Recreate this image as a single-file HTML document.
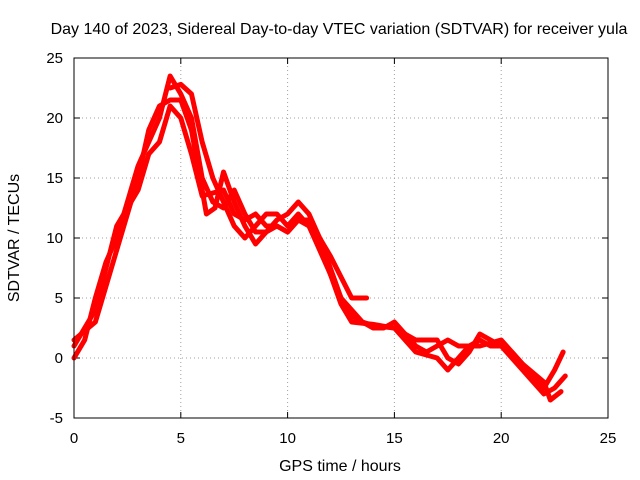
<!DOCTYPE html>
<html><head><meta charset="utf-8"><style>
html,body{margin:0;padding:0;background:#fff;}
svg{display:block;font-family:"Liberation Sans",sans-serif;}
</style></head><body>
<svg id="chart" width="640" height="480">
<text x="339" y="34" text-anchor="middle" font-size="16">Day 140 of 2023, Sidereal Day-to-day VTEC variation (SDTVAR) for receiver yula</text>
<text x="340" y="471" text-anchor="middle" font-size="16">GPS time / hours</text>
<text transform="translate(19,238) rotate(-90)" text-anchor="middle" font-size="16">SDTVAR / TECUs</text>
<g id="grid"></g>
<g id="ticks"></g>
<g id="series"></g>
<rect x="74" y="58" width="534" height="360" fill="none" stroke="#000" stroke-width="1"/>
</svg>
<script>
const xTicks=[0,5,10,15,20,25];
const yTicks=[-5,0,5,10,15,20,25];
const trackA=[[0,0],[0.5,1.5],[1,5],[1.5,8],[2,10],[2.5,13],[3,16],[3.5,18],[4,20],[4.5,23.5],[5,22],[5.5,20],[6,15],[6.5,13],[7,12.5],[7.5,14],[8,12],[8.5,10.5],[9,10.5],[9.5,11.5],[10,12],[10.5,13],[11,12],[11.5,10],[12,7.5],[12.5,5],[13,3.5],[13.5,3],[14,2.5],[14.5,2.5],[15,3],[15.5,2],[16,1],[16.5,0.5],[17,1],[17.5,1.5],[18,1],[18.5,1],[19,1.5],[19.5,1],[20,1],[20.5,0],[21,-1],[21.5,-2],[22,-3],[22.5,-2.5],[23,-1.5]];
const trackB=[[0,1.5],[1,3],[2,9],[3,15],[3.5,19],[4,21],[4.5,21.5],[5,21.5],[5.5,19],[6,14],[6.2,12],[6.6,12.5],[7,15.5],[7.5,13],[8,11],[8.5,9.5],[9,10.5],[9.5,11],[10,10.5],[10.5,11.5],[11,11],[11.5,9.5],[12,7],[12.5,4.5],[13,3],[14,2.8],[15,2.5],[16,1.5],[17,1.5],[17.5,0],[18,-0.5],[18.5,0.5],[19,2],[19.5,1.5],[20,1],[20.5,0.5],[21,-0.5],[21.5,-1.5],[22,-2.5],[22.5,-1],[22.9,0.5]];
const trackC=[[4.5,22.5],[5,22.8],[5.5,22],[6,18],[6.5,15],[7,13],[7.5,11],[8,10],[8.5,11],[9,12],[9.5,12],[10,11],[10.5,12],[11,11],[11.5,9],[12,7],[12.5,5],[13,4],[13.5,3],[14,2.7],[15,2.5],[16,0.5],[17,0],[17.5,-1],[18,0],[18.5,1],[19,1],[20,1.5],[20.5,0.5],[21,-0.5],[22,-2],[22.3,-3.5],[22.8,-2.8]];
const trackD=[[0,1],[1,4],[2,11],[3,14],[3.5,17],[4,18],[4.5,21],[5,20],[5.5,17],[6,13.5],[7,14],[7.5,12],[8,11.5],[8.5,12],[9,11],[9.5,11],[10,10.5],[10.5,11.5],[11,11.5],[12,8.5],[13,5],[13.7,5]];
const tracks=[trackA,trackB,trackC,trackD];
const X=v=>74+v*534/25, Y=v=>358-v*12;
const NS='http://www.w3.org/2000/svg';
const grid=document.getElementById('grid'),ticks=document.getElementById('ticks'),series=document.getElementById('series');
function mk(t,a,p){const e=document.createElementNS(NS,t);for(const k in a)e.setAttribute(k,a[k]);p.appendChild(e);return e;}
xTicks.forEach(v=>{const x=X(v);
 if(v>0&&v<25){const g=mk('line',{x1:x,x2:x,y1:58,y2:418,stroke:'#a0a0a0','stroke-dasharray':'1,3'},grid);}
 mk('line',{x1:x,x2:x,y1:418,y2:412,stroke:'#000'},ticks);mk('line',{x1:x,x2:x,y1:58,y2:64,stroke:'#000'},ticks);
 const t=mk('text',{x:x,y:443,'text-anchor':'middle','font-size':'15'},ticks);t.textContent=v;
 });
yTicks.forEach(v=>{const y=Y(v);
 if(v>-5&&v<25){const g=mk('line',{x1:74,x2:608,y1:y,y2:y,stroke:'#a0a0a0','stroke-dasharray':'1,3'},grid);}
 mk('line',{x1:74,x2:80,y1:y,y2:y,stroke:'#000'},ticks);mk('line',{x1:608,x2:602,y1:y,y2:y,stroke:'#000'},ticks);
 const t=mk('text',{x:63,y:y+5,'text-anchor':'end','font-size':'15'},ticks);t.textContent=v;
 });
tracks.forEach((tr,i)=>{
 const p=mk('polyline',{points:tr.map(d=>X(d[0])+','+Y(d[1])).join(' '),fill:'none',stroke:'#f00','stroke-width':'5','stroke-linejoin':'round','stroke-linecap':'round'},series);
 
 
});
</script>
</body></html>
